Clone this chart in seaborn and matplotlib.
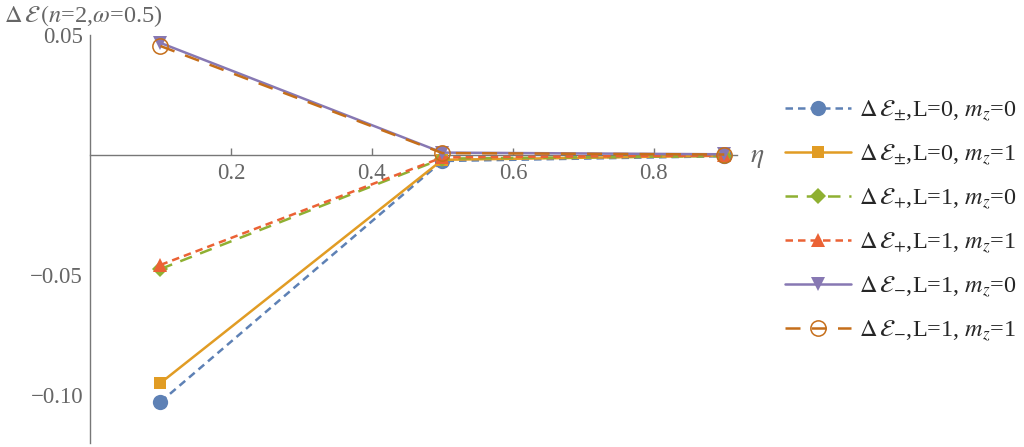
import numpy as np
import matplotlib
matplotlib.use("Agg")
import matplotlib.pyplot as plt
import seaborn as sns
from matplotlib.ticker import FixedLocator, MultipleLocator

sns.set_theme(style="white")
plt.rcParams['font.family'] = ['Liberation Serif', 'DejaVu Serif']
plt.rcParams['mathtext.fontset'] = 'stix'

# ---- data ----
eta = [0.1, 0.5, 0.9]
d_pm_L0_m0 = [-0.1029, -0.0025, -0.0005]
d_pm_L0_m1 = [-0.0950, -0.0020, -0.0003]
d_p_L1_m0 = [-0.0475, -0.0015, -0.0004]
d_p_L1_m1 = [-0.0458, -0.0010, -0.0002]
d_m_L1_m0 = [0.0467, 0.0010, 0.0003]
d_m_L1_m1 = [0.0454, 0.0008, 0.0002]

labels = [r'$\Delta\,\mathcal{E}_{\pm}$,L=0, $m_z$=0',
          r'$\Delta\,\mathcal{E}_{\pm}$,L=0, $m_z$=1',
          r'$\Delta\,\mathcal{E}_{+}$,L=1, $m_z$=0',
          r'$\Delta\,\mathcal{E}_{+}$,L=1, $m_z$=1',
          r'$\Delta\,\mathcal{E}_{-}$,L=1, $m_z$=0',
          r'$\Delta\,\mathcal{E}_{-}$,L=1, $m_z$=1']
xticks = [0.2, 0.4, 0.6, 0.8]
yticks = [-0.10, -0.05, 0.05]
ytick_labels = ['\u22120.10', '\u22120.05', '0.05']

series = [d_pm_L0_m0, d_pm_L0_m1, d_p_L1_m0, d_p_L1_m1, d_m_L1_m0, d_m_L1_m1]
colors = ['#5E81B5', '#E19C24', '#8FB032', '#EB6235', '#8778B3', '#C56E1A']
styles = [(0, (3, 2)), '-', (0, (5, 3.5)), (0, (3, 2)), '-', (0, (6, 4.5))]
markers = ['o', 's', 'D', '^', 'v', 'o']
msizes = [11, 8, 8, 10, 10, 11]
faces = [None, None, None, None, None, 'none']

fig = plt.figure(figsize=(10.24, 4.47), dpi=100)
ax = fig.add_axes([90/1024, 1-443/447, 647/1024, (443-35)/447])

for i, (vals, c, ls, mk, ms, fc) in enumerate(zip(series, colors, styles, markers, msizes, faces)):
    kw = dict(color=c, linestyle=ls, marker=mk, markersize=ms, linewidth=1.8,
              markeredgecolor=c, label=labels[i], clip_on=False, zorder=3)
    if fc == 'none':
        kw.update(markerfacecolor='none', markeredgewidth=1.1)
    else:
        kw.update(markeredgewidth=0)
    sns.lineplot(x=eta, y=vals, ax=ax, **kw)

ax.set_xlim(0, 0.918)
ax.set_ylim(-0.12, 0.05)

axcol = '#777777'
ax.spines['left'].set_position(('data', 0))
ax.spines['bottom'].set_position(('data', 0))
ax.spines['right'].set_visible(False)
ax.spines['top'].set_visible(False)
for s in ['left', 'bottom']:
    ax.spines[s].set_color(axcol)
    ax.spines[s].set_linewidth(1.0)

ax.xaxis.set_major_locator(FixedLocator(xticks))
ax.xaxis.set_minor_locator(MultipleLocator(0.05))
ax.yaxis.set_major_locator(FixedLocator(yticks))
ax.yaxis.set_minor_locator(MultipleLocator(0.01))
ax.set_xticklabels(['0.2', '0.4', '0.6', '0.8'])
ax.set_yticklabels(ytick_labels)
ax.tick_params(which='both', direction='in', colors=axcol, labelcolor='#666666',
               labelsize=16.5)
ax.tick_params(axis='x', which='major', length=5, width=1, pad=6,
               bottom=True, top=False)
ax.tick_params(axis='x', which='minor', length=3, width=0.8)
ax.tick_params(axis='y', which='major', length=5, width=1, pad=5)
ax.tick_params(axis='y', which='minor', length=3, width=0.8)
ax.grid(False)
ax.set_xlabel('')
ax.set_ylabel('')
if ax.get_legend() is not None:
    ax.get_legend().remove()

fig.text(4/1024, 1-16/447, r'$\Delta\,\mathcal{E}\,(n$=2,$\omega$=0.5)', color='#666666',
         fontsize=17.5, va='center', ha='left')
fig.text(750/1024, 1-158/447, r'$\eta$', color='#666666', fontsize=20,
         va='center', ha='left')

handles, labs = ax.get_legend_handles_labels()
fig.legend(handles, labs, loc='center left', bbox_to_anchor=(763/1024, 1-221/447),
           frameon=False, fontsize=17.5, handlelength=2.7, labelspacing=0.77,
           handletextpad=0.35)

fig.savefig('out.png', dpi=100)
